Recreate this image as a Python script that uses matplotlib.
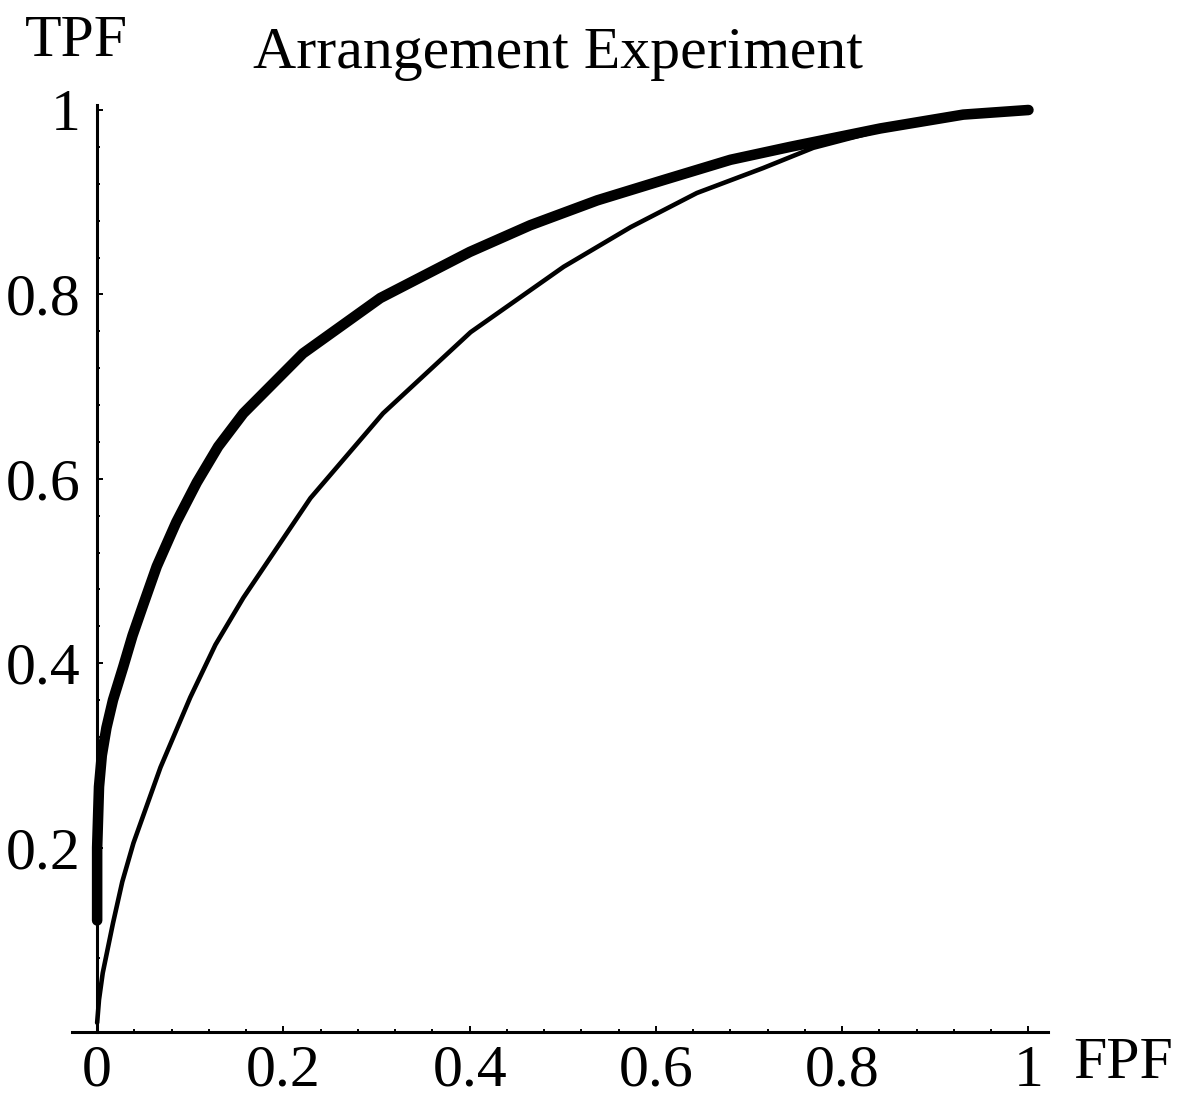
import matplotlib
matplotlib.use("Agg")
import matplotlib.pyplot as plt
from matplotlib.ticker import MultipleLocator, FixedLocator

plt.rcParams['font.family'] = ['Liberation Serif', 'DejaVu Serif']

# Thick ROC curve (upper)
thick_fpf = [0.0, 0.0, 0.002, 0.005, 0.010, 0.017, 0.028, 0.038, 0.049, 0.064,
             0.085, 0.107, 0.130, 0.157, 0.221, 0.304, 0.400, 0.465, 0.537,
             0.608, 0.680, 0.744, 0.841, 0.930, 1.0]
thick_tpf = [0.121, 0.20, 0.266, 0.30, 0.33, 0.36, 0.396, 0.430, 0.462, 0.505,
             0.553, 0.596, 0.635, 0.671, 0.736, 0.796, 0.846, 0.875, 0.902,
             0.924, 0.946, 0.960, 0.980, 0.995, 1.0]

# Thin ROC curve (lower)
thin_fpf = [0.0, 0.002, 0.006, 0.017, 0.027, 0.039, 0.068, 0.100, 0.127, 0.157,
            0.229, 0.307, 0.401, 0.501, 0.573, 0.644, 0.715, 0.769, 0.841,
            0.930, 1.0]
thin_tpf = [0.01, 0.035, 0.064, 0.118, 0.163, 0.205, 0.287, 0.363, 0.420, 0.471,
            0.579, 0.671, 0.759, 0.830, 0.873, 0.910, 0.937, 0.959, 0.978,
            0.994, 1.0]

x_ticks = [0, 0.2, 0.4, 0.6, 0.8, 1]
x_tick_labels = ["0", "0.2", "0.4", "0.6", "0.8", "1"]
y_ticks = [0.2, 0.4, 0.6, 0.8, 1]
y_tick_labels = ["0.2", "0.4", "0.6", "0.8", "1"]

W, H = 1181, 1100
fig = plt.figure(figsize=(W / 100, H / 100), dpi=100)
fig.patch.set_facecolor('white')

ax = fig.add_axes([72 / W, 1 - 1032 / H, (1048 - 72) / W, (1032 - 110) / H])
ax.set_xlim(-0.027, 1.021)
ax.set_ylim(0, 1.0)
ax.patch.set_alpha(0)

ax.plot(thin_fpf, thin_tpf, color='black', lw=3.3, solid_capstyle='round',
        solid_joinstyle='round', zorder=3, clip_on=False)
ax.plot(thick_fpf, thick_tpf, color='black', lw=7.6, solid_capstyle='round',
        solid_joinstyle='round', zorder=4, clip_on=False)

for s in ['top', 'right']:
    ax.spines[s].set_visible(False)
ax.spines['left'].set_position(('data', 0))
ax.spines['bottom'].set_position(('data', 0))
ax.spines['left'].set_bounds(0, 1.005)
ax.spines['left'].set_linewidth(2.2)
ax.spines['bottom'].set_linewidth(2.2)

ax.xaxis.set_major_locator(FixedLocator(x_ticks))
ax.set_xticklabels(x_tick_labels)
ax.xaxis.set_minor_locator(MultipleLocator(0.04))
ax.yaxis.set_major_locator(FixedLocator(y_ticks))
ax.set_yticklabels(y_tick_labels)
ax.yaxis.set_minor_locator(MultipleLocator(0.04))

ax.tick_params(which='both', direction='in', width=1.4, color='black')
ax.tick_params(which='major', length=4.5)
ax.tick_params(which='minor', length=2.5)
ax.tick_params(axis='x', which='major', labelsize=43, pad=9)
ax.tick_params(axis='y', which='major', labelsize=43, pad=12)

fig.text(558 / W, 1 - 68 / H, "Arrangement Experiment", fontsize=43,
         ha='center', va='baseline')
fig.text(25 / W, 1 - 56 / H, "TPF", fontsize=43, ha='left', va='baseline')
fig.text(1073 / W, 1 - 1078 / H, "FPF", fontsize=43, ha='left', va='baseline')

fig.savefig("out.png", dpi=100, facecolor='white')
